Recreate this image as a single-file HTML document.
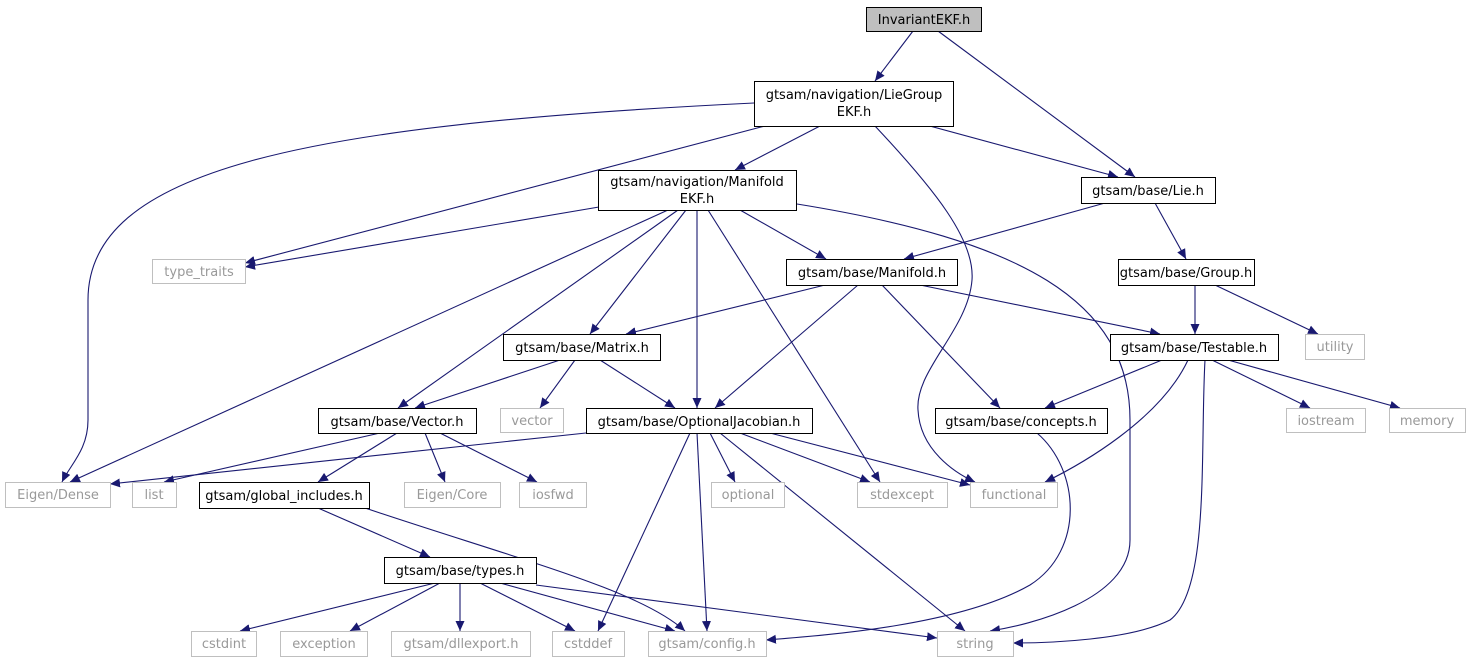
<!DOCTYPE html>
<html><head><meta charset="utf-8"><style>
body{margin:0;background:#fff;width:1471px;height:664px;overflow:hidden}
svg text{font-family:"DejaVu Sans","Liberation Sans",sans-serif;font-size:13px;text-anchor:middle}
</style></head><body>
<svg width="1471" height="664" viewBox="0 0 1471 664">
<defs><marker id="a" viewBox="0 0 10 10" refX="10" refY="5" markerWidth="10" markerHeight="10" markerUnits="userSpaceOnUse" orient="auto"><path d="M0,0.5 L10,5 L0,9.5z" fill="#191970"/></marker></defs>
<g fill="none" stroke="#191970" stroke-width="1.1" marker-end="url(#a)">
<path d="M913,31 L875,81"/>
<path d="M938,31 L1135,177"/>
<path d="M754,103 C300,125 88,170 88,300 L88,420 C88,450 70,465 62,482"/>
<path d="M780,122 L245,263"/>
<path d="M820,126 L735,170"/>
<path d="M875,126 C935,190 975,240 972,280 C968,330 915,370 918,410 C920,450 955,473 975,482"/>
<path d="M915,122 L1118,177"/>
<path d="M599,207 L245,267"/>
<path d="M797,204 C1020,240 1130,300 1130,420 L1130,540 C1130,600 1030,625 990,631"/>
<path d="M740,210 L826,259"/>
<path d="M686,210 L590,334"/>
<path d="M697,210 L697,408"/>
<path d="M708,210 L880,482"/>
<path d="M678,210 L398,408"/>
<path d="M668,210 L70,482"/>
<path d="M1105,203 L904,259"/>
<path d="M1155,203 L1186,259"/>
<path d="M825,285 L626,334"/>
<path d="M858,285 L715,408"/>
<path d="M882,285 L1000,408"/>
<path d="M920,285 L1160,334"/>
<path d="M1195,285 L1195,334"/>
<path d="M1215,285 L1318,334"/>
<path d="M560,360 L415,408"/>
<path d="M575,360 L540,408"/>
<path d="M600,360 L675,408"/>
<path d="M1162,360 L1045,408"/>
<path d="M1188,360 C1160,420 1080,465 1045,482"/>
<path d="M1212,360 L1310,408"/>
<path d="M1228,360 L1400,408"/>
<path d="M1205,360 C1200,450 1210,590 1170,620 C1130,640 1050,643 1013,643"/>
<path d="M380,433 L164,482"/>
<path d="M397,433 L318,482"/>
<path d="M425,433 L445,482"/>
<path d="M440,433 L537,482"/>
<path d="M586,433 L110,484"/>
<path d="M690,433 L598,631"/>
<path d="M697,433 L707,631"/>
<path d="M710,433 L735,482"/>
<path d="M720,433 L965,631"/>
<path d="M740,433 L870,482"/>
<path d="M770,433 L970,485"/>
<path d="M1037,433 C1080,470 1085,550 1030,585 C960,625 830,635 766,640"/>
<path d="M318,508 L430,557"/>
<path d="M365,508 C520,560 640,590 685,631"/>
<path d="M435,583 L240,631"/>
<path d="M440,583 L350,631"/>
<path d="M460,583 L460,631"/>
<path d="M480,583 L575,631"/>
<path d="M500,583 L675,631"/>
<path d="M536,585 L937,638"/>
</g>
<g stroke="#000" fill="#fff" stroke-width="1">
<rect x="866.5" y="7.5" width="115" height="24" fill="#bfbfbf"/>
<rect x="754.5" y="81.5" width="199" height="45"/>
<rect x="598.5" y="170.5" width="198" height="40"/>
<rect x="1081.5" y="177.5" width="134" height="26"/>
<rect x="786.5" y="259.5" width="171" height="26"/>
<rect x="1118.5" y="259.5" width="136" height="26"/>
<rect x="503.5" y="334.5" width="157" height="26"/>
<rect x="1110.5" y="334.5" width="168" height="26"/>
<rect x="318.5" y="408.5" width="158" height="25"/>
<rect x="586.5" y="408.5" width="226" height="25"/>
<rect x="935.5" y="408.5" width="172" height="25"/>
<rect x="199.5" y="482.5" width="170" height="26"/>
<rect x="384.5" y="557.5" width="152" height="26"/>
</g>
<g stroke="#bfbfbf" fill="#fff" stroke-width="1">
<rect x="152.5" y="259.5" width="93" height="24"/>
<rect x="1305.5" y="334.5" width="59" height="25"/>
<rect x="500.5" y="408.5" width="63" height="24"/>
<rect x="1286.5" y="408.5" width="79" height="24"/>
<rect x="1389.5" y="408.5" width="76" height="24"/>
<rect x="5.5" y="482.5" width="105" height="25"/>
<rect x="132.5" y="482.5" width="44" height="25"/>
<rect x="404.5" y="482.5" width="96" height="25"/>
<rect x="519.5" y="482.5" width="67" height="25"/>
<rect x="711.5" y="482.5" width="73" height="25"/>
<rect x="857.5" y="482.5" width="90" height="25"/>
<rect x="970.5" y="482.5" width="87" height="25"/>
<rect x="191.5" y="631.5" width="65" height="25"/>
<rect x="280.5" y="631.5" width="87" height="25"/>
<rect x="391.5" y="631.5" width="139" height="25"/>
<rect x="552.5" y="631.5" width="72" height="25"/>
<rect x="648.5" y="631.5" width="118" height="25"/>
<rect x="937.5" y="631.5" width="76" height="25"/>
</g>
<g fill="#000">
<text x="924" y="24">InvariantEKF.h</text>
<text x="854" y="99">gtsam/navigation/LieGroup</text>
<text x="854" y="116">EKF.h</text>
<text x="697" y="186">gtsam/navigation/Manifold</text>
<text x="697" y="203">EKF.h</text>
<text x="1148" y="195">gtsam/base/Lie.h</text>
<text x="872" y="277">gtsam/base/Manifold.h</text>
<text x="1186" y="277">gtsam/base/Group.h</text>
<text x="582" y="352">gtsam/base/Matrix.h</text>
<text x="1194" y="352">gtsam/base/Testable.h</text>
<text x="397" y="426">gtsam/base/Vector.h</text>
<text x="699" y="426">gtsam/base/OptionalJacobian.h</text>
<text x="1021" y="426">gtsam/base/concepts.h</text>
<text x="284" y="500">gtsam/global_includes.h</text>
<text x="460" y="575">gtsam/base/types.h</text>
</g>
<g fill="#999">
<text x="199" y="276">type_traits</text>
<text x="1335" y="351">utility</text>
<text x="532" y="425">vector</text>
<text x="1326" y="425">iostream</text>
<text x="1427" y="425">memory</text>
<text x="58" y="499">Eigen/Dense</text>
<text x="154" y="499">list</text>
<text x="452" y="499">Eigen/Core</text>
<text x="553" y="499">iosfwd</text>
<text x="748" y="499">optional</text>
<text x="902" y="499">stdexcept</text>
<text x="1014" y="499">functional</text>
<text x="224" y="648">cstdint</text>
<text x="324" y="648">exception</text>
<text x="461" y="648">gtsam/dllexport.h</text>
<text x="588" y="648">cstddef</text>
<text x="707" y="648">gtsam/config.h</text>
<text x="975" y="648">string</text>
</g>
</svg>
</body></html>
